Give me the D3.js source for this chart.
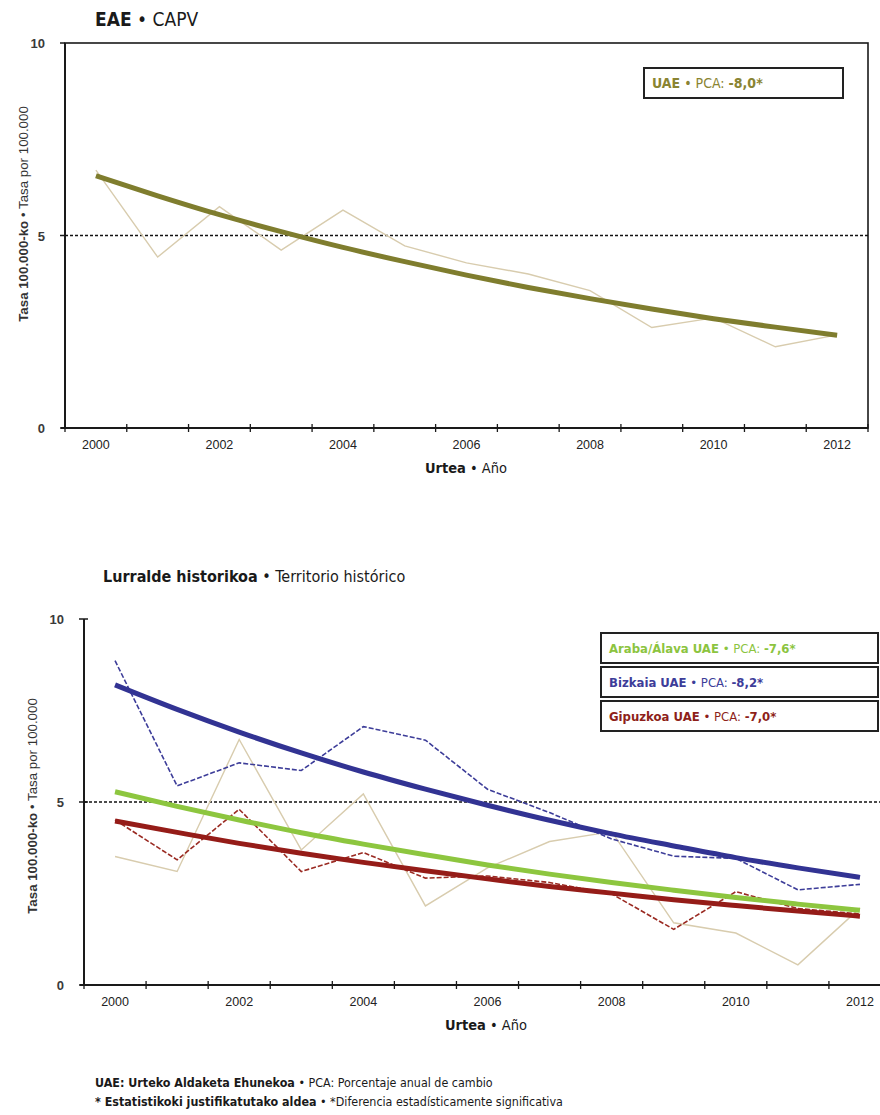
<!DOCTYPE html>
<html><head><meta charset="utf-8">
<script src="https://cdn.jsdelivr.net/npm/d3@7"></script>
<style>body{margin:0;background:#fff} svg{display:block}</style>
</head><body><svg id="c" width="880" height="1115"></svg>
<script>
const years = [2000,2001,2002,2003,2004,2005,2006,2007,2008,2009,2010,2011,2012];
const tickYears = [2000,2002,2004,2006,2008,2010,2012];
const yTicks = [0,5,10];
const referenceLine = 5;
const capvObserved = [6.70,4.44,5.75,4.62,5.66,4.73,4.29,4.00,3.57,2.61,2.86,2.11,2.42];
const capvTrend = [6.55,6.03,5.54,5.10,4.69,4.32,3.97,3.65,3.36,3.09,2.84,2.62,2.41];
const arabaObserved = [3.51,3.10,6.71,3.69,5.22,2.16,3.20,3.92,4.19,1.70,1.42,0.55,2.10];
const arabaTrend = [5.28,4.88,4.51,4.16,3.85,3.56,3.28,3.03,2.80,2.59,2.39,2.21,2.04];
const bizkaiaObserved = [8.86,5.44,6.07,5.86,7.06,6.69,5.35,4.71,3.99,3.52,3.46,2.60,2.75];
const bizkaiaTrend = [8.20,7.53,6.91,6.34,5.82,5.35,4.91,4.50,4.13,3.80,3.48,3.20,2.94];
const gipuzkoaObserved = [4.51,3.42,4.80,3.10,3.62,2.92,2.98,2.80,2.49,1.52,2.55,2.09,1.94];
const gipuzkoaTrend = [4.48,4.17,3.87,3.60,3.35,3.12,2.90,2.69,2.51,2.33,2.17,2.02,1.88];
const legendTop = [{name:"UAE", pca:"-8,0*", color:"#8a8432"}];
const legendBottom = [
  {name:"Araba/Álava UAE", pca:"-7,6*", color:"#8cc43f"},
  {name:"Bizkaia UAE", pca:"-8,2*", color:"#3d3d99"},
  {name:"Gipuzkoa UAE", pca:"-7,0*", color:"#8e1f1a"}
];

const svg = d3.select("#c");
const condensed = "'Liberation Sans Narrow','Arial Narrow','DejaVu Sans Condensed',sans-serif";
const arial = "'Liberation Sans',Arial,sans-serif";

function richText(g, x, y, parts, size, family, fill, anchor){
  const t = g.append("text").attr("x",x).attr("y",y).attr("font-size",size)
    .attr("font-family",family).attr("fill",fill);
  if(anchor) t.attr("text-anchor",anchor);
  parts.forEach(p=>t.append("tspan").text(p[0]).attr("font-weight",p[1]?"bold":"normal"));
  return t;
}

function chart(cfg){
  const g = svg.append("g");
  const x = d3.scaleBand().domain(years).range([cfg.x0,cfg.x1]);
  const cx = d => x(d)+x.bandwidth()/2;
  const y = d3.scaleLinear().domain([0,10]).range([cfg.yb,cfg.yt]);

  richText(g, cfg.titleX, cfg.titleY, cfg.title, cfg.titleSize, condensed, "#1a1a1a");

  if(cfg.box){
    g.append("rect").attr("x",cfg.x0).attr("y",y(10)).attr("width",cfg.x1-cfg.x0)
      .attr("height",y(0)-y(10)).attr("fill","none").attr("stroke","#1a1a1a").attr("stroke-width",1.6);
  }
  g.append("line").attr("x1",cfg.x0).attr("x2",cfg.x0).attr("y1",y(10)).attr("y2",y(0))
    .attr("stroke","#1a1a1a").attr("stroke-width",2);
  g.append("line").attr("x1",cfg.x0-4).attr("x2",Math.min(cfg.x1,880)).attr("y1",y(0)).attr("y2",y(0))
    .attr("stroke","#1a1a1a").attr("stroke-width",2);

  yTicks.forEach(v=>{
    g.append("line").attr("x1",cfg.x0-5).attr("x2",cfg.x0+(cfg.box?0:4)).attr("y1",y(v)).attr("y2",y(v))
      .attr("stroke","#1a1a1a").attr("stroke-width",1.5);
    g.append("text").attr("x",cfg.x0-20).attr("y",y(v)+5).attr("text-anchor","end")
      .attr("font-family",arial).attr("font-size",13).attr("font-weight","bold").attr("fill","#3a3a3a").text(v);
  });
  const bounds = years.map(d=>x(d)).concat([x(years[years.length-1])+x.bandwidth()]);
  bounds.forEach(b=>{
    g.append("line").attr("x1",b).attr("x2",b).attr("y1",y(0)-4).attr("y2",y(0)+4)
      .attr("stroke","#1a1a1a").attr("stroke-width",1.3);
  });
  tickYears.forEach(d=>{
    g.append("text").attr("x",cx(d)).attr("y",y(0)+21).attr("text-anchor","middle")
      .attr("font-family",arial).attr("font-size",12.5).attr("fill","#222").text(d);
  });
  richText(g, cfg.xTitleX, y(0)+45, [["Urtea",true],[" • Año",false]], 14.5, condensed, "#1a1a1a", "middle");
  const yl = richText(g, 0, 0, [["Tasa 100.000-ko",true],[" • Tasa por 100.000",false]], 13.3, arial, "#333", "middle");
  yl.attr("transform",`translate(${cfg.yLabelX},${cfg.yLabelY}) rotate(-90)`);

  g.append("line").attr("x1",cfg.x0).attr("x2",Math.min(cfg.x1,880)).attr("y1",y(referenceLine)).attr("y2",y(referenceLine))
    .attr("stroke","#111").attr("stroke-width",1.5).attr("stroke-dasharray","3,2");

  const lineRaw = d3.line().x((d,i)=>cx(years[i])).y(d=>y(d));
  const lineTrend = d3.line().x((d,i)=>cx(years[i])).y(d=>y(d)).curve(d3.curveMonotoneX);

  cfg.series.filter(s=>!s.trend).forEach(s=>{
    g.append("path").datum(s.values).attr("d",lineRaw).attr("fill","none")
      .attr("stroke",s.color).attr("stroke-width",s.width).attr("stroke-dasharray",s.dash||null);
  });
  cfg.series.filter(s=>s.trend).forEach(s=>{
    g.append("path").datum(s.values).attr("d",lineTrend).attr("fill","none")
      .attr("stroke",s.color).attr("stroke-width",s.width).attr("stroke-linecap","butt");
  });

  cfg.legend.forEach((L,i)=>{
    const bx = cfg.legX, by = cfg.legY + i*cfg.legStep;
    g.append("rect").attr("x",bx).attr("y",by).attr("width",cfg.legW).attr("height",cfg.legH)
      .attr("fill","#fff").attr("stroke","#222").attr("stroke-width",2);
    richText(g, bx+8, by+cfg.legH/2+5, [[L.name,true],[" • PCA: ",false],[L.pca,true]], cfg.legSize, condensed, L.color);
  });
}

chart({
  x0:65, x1:868, yt:43, yb:428, box:true,
  title:[["EAE",true],[" • CAPV",false]], titleX:95, titleY:26, titleSize:19,
  xTitleX:466, yLabelX:28, yLabelY:214,
  series:[
    {values:capvObserved, color:"#d8ccae", width:1.4},
    {values:capvTrend, color:"#7f7d2e", width:5, trend:true}
  ],
  legend:legendTop, legX:644, legY:68, legW:199, legH:30, legStep:0, legSize:14
});

chart({
  x0:84, x1:891, yt:619, yb:985, box:false,
  title:[["Lurralde historikoa",true],[" • Territorio histórico",false]], titleX:103, titleY:582, titleSize:16,
  xTitleX:486, yLabelX:37, yLabelY:806,
  series:[
    {values:arabaObserved, color:"#d8ccae", width:1.4},
    {values:gipuzkoaObserved, color:"#9a2a22", width:1.6, dash:"5,2"},
    {values:bizkaiaObserved, color:"#3d3d99", width:1.6, dash:"5,2"},
    {values:arabaTrend, color:"#8dc63f", width:5, trend:true},
    {values:gipuzkoaTrend, color:"#951c18", width:5, trend:true},
    {values:bizkaiaTrend, color:"#323393", width:5, trend:true}
  ],
  legend:legendBottom, legX:601, legY:633, legW:277, legH:30, legStep:34, legSize:13
});

const fn = svg.append("g");
richText(fn, 95, 1087, [["UAE: Urteko Aldaketa Ehunekoa",true],[" • PCA: Porcentaje anual de cambio",false]], 12.4, condensed, "#1a1a1a");
richText(fn, 95, 1106, [["* Estatistikoki justifikatutako aldea",true],[" • *Diferencia estadísticamente significativa",false]], 12.4, condensed, "#1a1a1a");
</script>
</body></html>
